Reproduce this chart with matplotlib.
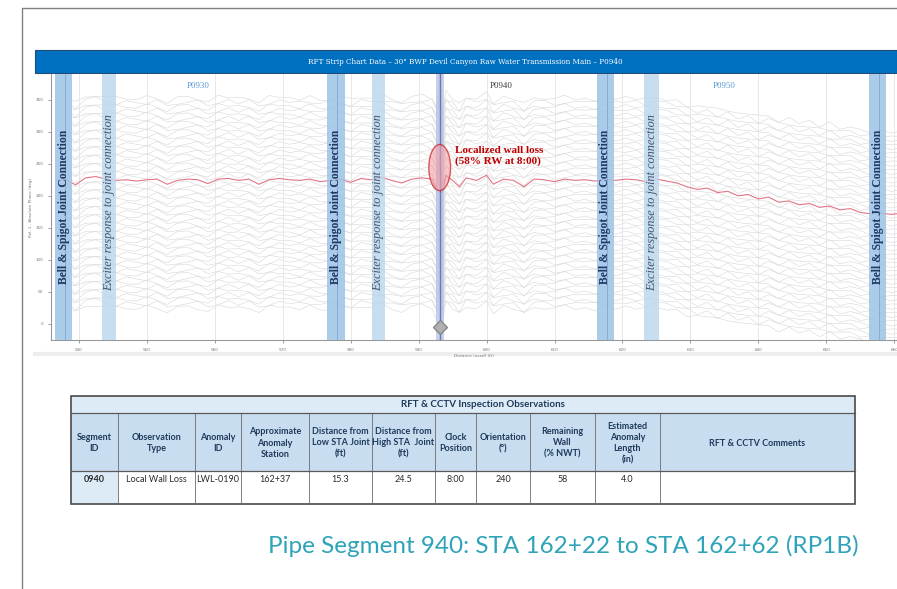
import numpy as np
import matplotlib
matplotlib.use('Agg')
import matplotlib.pyplot as plt
from matplotlib.patches import Rectangle, Ellipse

# ---- strip chart data (distance in ft, signal units) ----
red_x = [536.8, 538.0, 539.5, 541.0, 542.5, 544.0, 545.5, 547.0, 548.5, 550.0,
         551.5, 553.0, 554.5, 556.0, 557.5, 559.0, 560.5, 562.0, 563.5, 565.0,
         566.5, 568.0, 569.5, 571.0, 572.5, 574.0, 575.5, 577.0, 578.5, 580.0,
         581.5, 583.0, 584.5, 586.0, 587.5, 589.0, 590.5, 592.0, 592.6, 593.1,
         593.5, 594.0, 595.0, 596.0, 597.0, 598.5, 600.0, 601.0, 602.5, 604.0,
         605.5, 607.0, 608.5, 610.0, 611.5, 613.0, 614.5, 616.0, 617.5, 619.0,
         620.5, 622.0, 623.5, 625.0, 626.5, 628.0, 629.5, 631.0, 632.5, 634.0,
         635.5, 637.0, 638.5, 640.0, 641.5, 643.0, 644.5, 646.0, 647.5, 649.0,
         650.5, 652.0, 653.5, 655.0, 656.5, 658.0, 659.5, 660.5]
red_y = [224, 226, 217, 228, 230, 226, 224, 225, 223, 225,
         226, 218, 224, 226, 225, 219, 226, 227, 224, 226,
         218, 225, 227, 225, 224, 226, 222, 224, 226, 221,
         227, 225, 229, 224, 220, 226, 228, 226, 212, 258,
         205, 232, 224, 214, 228, 224, 232, 218, 226, 224,
         214, 226, 225, 222, 226, 224, 225, 223, 226, 224,
         226, 225, 222, 226, 223, 220, 214, 210, 212, 205,
         207, 200, 202, 195, 198, 190, 192, 186, 188, 182,
         184, 178, 180, 174, 172, 173, 171, 172]
# wiggle of the grey background traces
gray_wave = [0, 5, -4, 3, 6, -2, -5, 4, 2, -6,
             5, 3, -4, -2, 6, 1, -5, 4, -3, 5,
             2, -6, 3, -1, 5, -4, 2, 6, -3, -5,
             4, 1, -6, 3, 5, -2, -4, 6, 10, -12,
             14, -8, 3, -5, 6, 2, -4, 5, -3, 4,
             -6, 2, 5, -3, -5, 4, 1, 6, -4, 3,
             -2, 5, -5, 2, 4, -3, 6, -4, 3, -6,
             5, -2, 4, -5, 3, 6, -4, 2, -3, 5,
             -6, 4, 1, -3, 5, -4, 2, 0]
gray_offsets = [128, 121, 115, 108, 102, 95, 89, 82, 76, 69, 63, 56, 50, 43,
                37, 30, 24, 17, 11, 5, -5, -11, -17, -24, -30, -37, -43, -50,
                -56, -63, -69, -76, -82, -89, -95, -102, -108, -115, -121, -128,
                -134, -141, -147, -154, -160, -167, -173, -180, -186, -193, -199]

bell_bands = [(536.5, 539.0), (576.5, 579.1), (616.3, 618.7), (656.3, 658.8)]
exciter_bands = [(543.4, 545.4), (583.1, 585.1), (623.2, 625.4)]
segment_names = ['P0930', 'P0940', 'P0950']
segment_pos = [557.6, 602.2, 634.9]
anomaly_x = 593.1
anomaly_y = 244
x_ticks = list(range(540, 661, 10))
y_ticks = list(range(0, 351, 50))

# ---- inspection table ----
table_title = 'RFT & CCTV Inspection Observations'
table_headers = ['Segment\nID', 'Observation\nType', 'Anomaly\nID',
                 'Approximate\nAnomaly\nStation', 'Distance from\nLow STA Joint\n(ft)',
                 'Distance from\nHigh STA  Joint\n(ft)', 'Clock\nPosition',
                 'Orientation\n(°)', 'Remaining\nWall\n(% NWT)',
                 'Estimated\nAnomaly\nLength\n(in)', 'RFT & CCTV Comments']
table_row = ['0940', 'Local Wall Loss', 'LWL-0190', '162+37', '15.3', '24.5',
             '8:00', '240', '58', '4.0', '']
col_edges = [71, 118, 195, 241, 309, 372, 435, 476, 530, 595, 660, 855]

fig = plt.figure(figsize=(8.97, 5.89), dpi=100)

# overlay in pixel coordinates for the slide furniture
ov = fig.add_axes([0, 0, 1, 1])
ov.set_xlim(0, 897)
ov.set_ylim(589, 0)
ov.axis('off')
ov.plot([22, 22, 897], [589, 8, 8], color='#808080', lw=1)
ov.add_patch(Rectangle((35, 50), 862, 23, fc='#0070C0', ec='#1F4E79', lw=0.8))
ov.text(465, 61.5, 'RFT Strip Chart Data \u2013 30" BWP Devil Canyon Raw Water Transmission Main \u2013 P0940',
        color='white', fontsize=5.2, family='DejaVu Serif', ha='center', va='center')
ov.plot([35, 897], [354, 354], color='#eeeeee', lw=3)

# ---- strip chart ----
ax = fig.add_axes([51 / 897, 1 - 340 / 589, 1 - 51 / 897, 266 / 589])
ax.set_xlim(535.9, 660.4)
ax.set_ylim(-25, 390)
rx = np.array(red_x)
ry = np.array(red_y, dtype=float)
wave = np.array(gray_wave, dtype=float)
for i, off in enumerate(gray_offsets):
    sign = 0.6 if i % 2 else -0.6
    ax.plot(rx, ry + off + sign * wave, color='#d6d6d6', lw=0.4, zorder=1)
ax.plot(rx, ry, color='#e27585', lw=0.8, zorder=2)

for a, b in bell_bands:
    ax.axvspan(a, b, color='#9DC3E6', alpha=0.85, lw=0, zorder=3)
    ax.axvline(a + 0.6 * (b - a), color='#7FA8D4', lw=0.6, zorder=3)
    ax.text((a + b) / 2, 182, 'Bell & Spigot Joint Connection', rotation=90,
            ha='center', va='center', fontsize=8.4, family='Liberation Serif',
            fontweight='bold', color='#1F3864', zorder=5)
for a, b in exciter_bands:
    ax.axvspan(a, b, color='#BDD7EE', alpha=0.85, lw=0, zorder=3)
    ax.text((a + b) / 2, 190, 'Exciter response to joint connection', rotation=90,
            ha='center', va='center', fontsize=8.8, family='Liberation Serif',
            style='italic', color='#44546A', zorder=5)

for name, pos in zip(segment_names, segment_pos):
    ax.text(pos, 372, name, ha='center', va='center', fontsize=6.5,
            family='Liberation Serif',
            color='#404040' if name == 'P0940' else '#5B9BD5', zorder=5)

ax.axvspan(anomaly_x - 0.6, anomaly_x + 0.6, color='#B4C7E7', alpha=0.8, lw=0, zorder=3)
ax.axvline(anomaly_x, color='#7F6FB0', lw=1, zorder=4)
ax.plot([anomaly_x], [-5], marker='D', ms=7, color='#b0b0b0', mec='#888888', zorder=5)
ax.add_patch(Ellipse((anomaly_x, anomaly_y), 3.2, 72, fc='#f4a0a8', alpha=0.6,
                     ec='#C00000', lw=1, zorder=5))
ax.text(595.3, 262, 'Localized wall loss\n(58% RW at 8:00)', color='#C00000',
        fontsize=8, family='Liberation Serif', fontweight='bold', va='center',
        ha='left', linespacing=1.3, zorder=6)

ax.set_xticks(x_ticks)
ax.set_yticks(y_ticks)
ax.tick_params(labelsize=3, colors='#777777', length=2, width=0.5)
ax.grid(axis='x', color='#e4e4e4', lw=0.6, zorder=0)
ax.set_xlabel('Distance (used) (ft)', fontsize=3, color='#777777', labelpad=2)
ax.set_ylabel('Rel. 1 - Absolute Phase (deg)', fontsize=3, color='#777777', labelpad=2)
for s in ['top', 'right']:
    ax.spines[s].set_visible(False)
for s in ['left', 'bottom']:
    ax.spines[s].set_color('#999999')
    ax.spines[s].set_linewidth(0.8)

# ---- table ----
y_top, y_title, y_head, y_bot = 396, 413, 471, 504
ov.add_patch(Rectangle((col_edges[0], y_top), col_edges[-1] - col_edges[0], y_title - y_top,
                       fc='#DDEBF7', ec='none'))
ov.add_patch(Rectangle((col_edges[0], y_title), col_edges[-1] - col_edges[0], y_head - y_title,
                       fc='#C9DDF1', ec='none'))
ov.add_patch(Rectangle((col_edges[0], y_head), col_edges[1] - col_edges[0], y_bot - y_head,
                       fc='#DDEBF7', ec='none'))
ov.text((col_edges[0] + col_edges[-1]) / 2 + 20, (y_top + y_title) / 2, table_title,
        ha='center', va='center', fontsize=7, family='Lato', fontweight='bold', color='#1F3A5A')
for i, (h, v) in enumerate(zip(table_headers, table_row)):
    cx = (col_edges[i] + col_edges[i + 1]) / 2
    ov.text(cx, (y_title + y_head) / 2 + 1, h, ha='center', va='center', fontsize=6.5,
            family='Lato', fontweight='bold', color='#1F3A5A', linespacing=1.3)
    ov.text(cx, 480, v, ha='center', va='center', fontsize=6.5, family='Lato',
            fontweight='bold' if i == 0 else 'normal', color='#2b2b2b')
for xe in col_edges[1:-1]:
    ov.plot([xe, xe], [y_title, y_bot], color='#6a6a6a', lw=0.6)
for ye in [y_title, y_head]:
    ov.plot([col_edges[0], col_edges[-1]], [ye, ye], color='#5a5a5a', lw=0.9)
ov.add_patch(Rectangle((col_edges[0], y_top), col_edges[-1] - col_edges[0], y_bot - y_top,
                       fc='none', ec='#4a4a4a', lw=1.2))

ov.text(563, 546, 'Pipe Segment 940: STA 162+22 to STA 162+62 (RP1B)', ha='center',
        va='center', fontsize=17.5, family='Lato', fontweight='normal', color='#2FA4B9')

fig.savefig('out.png', dpi=100)
